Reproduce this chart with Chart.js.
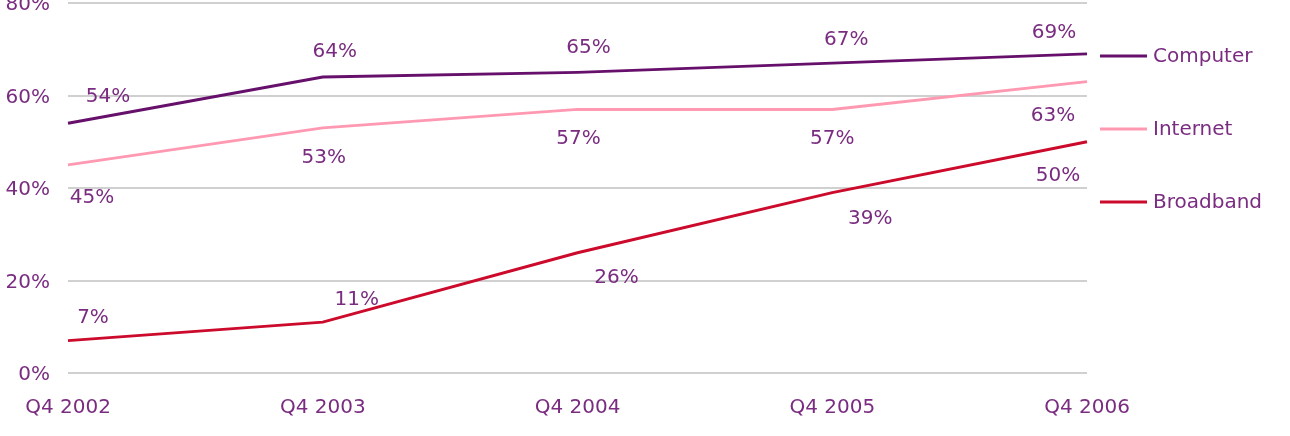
<!DOCTYPE html>
<html>
<head>
<meta charset="utf-8">
<script src="https://cdn.jsdelivr.net/npm/chart.js@4/dist/chart.umd.min.js"></script>
<style>
  html, body { margin: 0; padding: 0; background: #fff; }
  #wrap { width: 1290px; height: 436px; position: relative; }
</style>
</head>
<body>
<div id="wrap"><canvas id="ownershipChart"></canvas></div>
<script>
const categories = ['Q4 2002', 'Q4 2003', 'Q4 2004', 'Q4 2005', 'Q4 2006'];
const computer = [54, 64, 65, 67, 69];
const internet = [45, 53, 57, 57, 63];
const broadband = [7, 11, 26, 39, 50];
const yTickValues = [0, 20, 40, 60, 80];

const textColor = '#7a2c80';
const fontFamily = '"DejaVu Sans", sans-serif';

// draws the % value next to each point, offset per point like the original
const valueLabels = {
  id: 'valueLabels',
  afterDatasetsDraw(chart, args, opts) {
    const ctx = chart.ctx;
    ctx.save();
    ctx.font = '20px ' + fontFamily;
    ctx.fillStyle = textColor;
    ctx.textAlign = 'center';
    ctx.textBaseline = 'middle';
    chart.data.datasets.forEach((ds, i) => {
      const meta = chart.getDatasetMeta(i);
      const offs = opts.offsets[i];
      meta.data.forEach((pt, j) => {
        ctx.fillText(ds.data[j] + '%', pt.x + offs[j][0], pt.y + offs[j][1]);
      });
    });
    ctx.restore();
  }
};

// legend drawn to the right of the plot
const sideLegend = {
  id: 'sideLegend',
  afterDraw(chart) {
    const ctx = chart.ctx;
    const x0 = chart.chartArea.right + 13;
    ctx.save();
    ctx.font = '20px ' + fontFamily;
    ctx.textBaseline = 'middle';
    chart.data.datasets.forEach((ds, i) => {
      const y = 56 + i * 73;
      ctx.strokeStyle = ds.borderColor;
      ctx.lineWidth = 3;
      ctx.beginPath();
      ctx.moveTo(x0, y);
      ctx.lineTo(x0 + 47, y);
      ctx.stroke();
      ctx.fillStyle = textColor;
      ctx.fillText(ds.label, x0 + 53, y + 1);
    });
    ctx.restore();
  }
};

const ctx = document.getElementById('ownershipChart').getContext('2d');
const chart = new Chart(ctx, {
  type: 'line',
  data: {
    labels: categories,
    datasets: [
      { label: 'Computer', data: computer, borderColor: '#66106c' },
      { label: 'Internet', data: internet, borderColor: '#ff99b2' },
      { label: 'Broadband', data: broadband, borderColor: '#cc0a2c' }
    ].map(d => Object.assign(d, { borderWidth: 3, pointRadius: 0, tension: 0, fill: false }))
  },
  options: {
    responsive: true,
    maintainAspectRatio: false,
    animation: false,
    layout: { padding: { top: 3, right: 203, left: 0, bottom: 0 } },
    plugins: {
      legend: { display: false },
      tooltip: { enabled: false },
      valueLabels: {
        offsets: [
          [[40, -26], [12, -25], [11, -25], [14, -23], [-33, -21]],
          [[24, 33], [1, 30], [1, 29], [0, 29], [-34, 34]],
          [[25, -23], [34, -22], [39, 25], [38, 26], [-29, 34]]
        ]
      }
    },
    scales: {
      x: {
        offset: false,
        grid: { display: false },
        border: { display: false },
        ticks: { color: textColor, font: { family: fontFamily, size: 20 }, padding: 15, maxRotation: 0, autoSkip: false },
        afterFit(s) { s.height = 63; s.paddingLeft = 0; s.paddingRight = 0; }
      },
      y: {
        min: 0,
        max: 80,
        afterBuildTicks(s) { s.ticks = yTickValues.map(v => ({ value: v })); },
        grid: { color: '#d0d0d0', lineWidth: 2, drawTicks: false },
        border: { display: false },
        ticks: { color: textColor, font: { family: fontFamily, size: 20 }, padding: 18, labelOffset: 2, callback: v => v + '%' },
        afterFit(s) { s.width = 68; s.paddingTop = 0; s.paddingBottom = 0; }
      }
    }
  },
  plugins: [valueLabels, sideLegend]
});
</script>
</body>
</html>
